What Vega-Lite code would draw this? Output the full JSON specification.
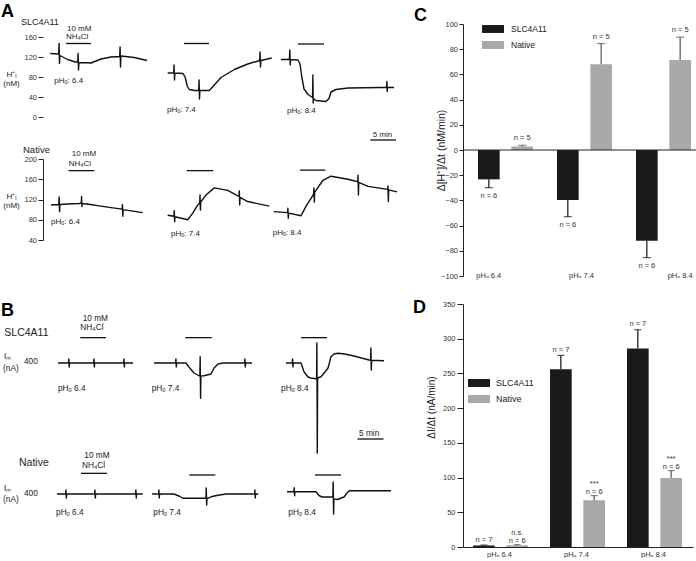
{
  "$schema": "https://vega.github.io/schema/vega-lite/v6.json",
  "padding": {"left": 0, "top": 3, "right": 0, "bottom": 0},
  "config": {
    "font": "Liberation Sans",
    "view": {"stroke": null},
    "axis": {"grid": false, "labelOverlap": false, "domainColor": "#222", "tickColor": "#222", "labelColor": "#333", "titleColor": "#222", "titleFontWeight": "normal"}
  },
  "datasets": {
    "a1": [
      {"s":1,"t":1.40,"v":127},{"s":1,"t":3.01,"v":126},{"s":1,"t":3.09,"v":147},{"s":1,"t":3.17,"v":107},{"s":1,"t":3.25,"v":123},{"s":1,"t":4.74,"v":115},{"s":1,"t":6.2,"v":110},{"s":1,"t":6.66,"v":110},{"s":1,"t":6.74,"v":127},{"s":1,"t":6.82,"v":94},{"s":1,"t":6.90,"v":109},{"s":1,"t":9.22,"v":108},{"s":1,"t":11.14,"v":116},{"s":1,"t":13.06,"v":120},{"s":1,"t":14.73,"v":121},{"s":1,"t":14.81,"v":140},{"s":1,"t":14.89,"v":100},{"s":1,"t":14.97,"v":122},{"s":1,"t":17.54,"v":119},{"s":1,"t":19.98,"v":113},
      {"s":2,"t":23.95,"v":88},{"s":2,"t":25.10,"v":88},{"s":2,"t":25.18,"v":104},{"s":2,"t":25.26,"v":74},{"s":2,"t":25.34,"v":88},{"s":2,"t":26.9,"v":87},{"s":2,"t":27.3,"v":80},{"s":2,"t":27.7,"v":62},{"s":2,"t":28.1,"v":55},{"s":2,"t":29.06,"v":53},{"s":2,"t":29.9,"v":53},{"s":2,"t":29.98,"v":74},{"s":2,"t":30.06,"v":36},{"s":2,"t":30.14,"v":53},{"s":2,"t":31.94,"v":53},{"s":2,"t":32.9,"v":64},{"s":2,"t":34.19,"v":79},{"s":2,"t":36.75,"v":95},{"s":2,"t":39.32,"v":106},{"s":2,"t":41.62,"v":113},{"s":2,"t":41.70,"v":130},{"s":2,"t":41.78,"v":100},{"s":2,"t":41.86,"v":113},{"s":2,"t":43.93,"v":118},
      {"s":3,"t":45.72,"v":115},{"s":3,"t":47.33,"v":115},{"s":3,"t":47.41,"v":134},{"s":3,"t":47.49,"v":104},{"s":3,"t":47.57,"v":115},{"s":3,"t":48.98,"v":114},{"s":3,"t":49.37,"v":106},{"s":3,"t":49.75,"v":78},{"s":3,"t":50.14,"v":56},{"s":3,"t":50.91,"v":45},{"s":3,"t":51.48,"v":41},{"s":3,"t":51.78,"v":39},{"s":3,"t":51.84,"v":84},{"s":3,"t":51.90,"v":28},{"s":3,"t":51.96,"v":37},{"s":3,"t":52.44,"v":33},{"s":3,"t":54.36,"v":31},{"s":3,"t":54.94,"v":37},{"s":3,"t":55.32,"v":50},{"s":3,"t":56.28,"v":55},{"s":3,"t":58.59,"v":58},{"s":3,"t":64.93,"v":59},{"s":3,"t":66.0,"v":59},{"s":3,"t":66.06,"v":71},{"s":3,"t":66.12,"v":51},{"s":3,"t":66.18,"v":59},{"s":3,"t":67.42,"v":59}
    ],
    "a2": [
      {"s":1,"t":1.54,"v":109},{"s":1,"t":3.02,"v":110},{"s":1,"t":3.10,"v":125},{"s":1,"t":3.18,"v":96},{"s":1,"t":3.26,"v":110},{"s":1,"t":4.74,"v":111},{"s":1,"t":6.98,"v":112},{"s":1,"t":7.35,"v":113},{"s":1,"t":7.41,"v":126},{"s":1,"t":7.47,"v":106},{"s":1,"t":7.53,"v":112},{"s":1,"t":9.86,"v":109},{"s":1,"t":13.06,"v":104},{"s":1,"t":15.2,"v":101},{"s":1,"t":15.26,"v":110},{"s":1,"t":15.34,"v":87},{"s":1,"t":15.40,"v":100},{"s":1,"t":19.15,"v":94},
      {"s":2,"t":23.95,"v":89},{"s":2,"t":25.15,"v":87},{"s":2,"t":25.21,"v":98},{"s":2,"t":25.29,"v":76},{"s":2,"t":25.35,"v":86},{"s":2,"t":27.8,"v":80},{"s":2,"t":28.76,"v":93},{"s":2,"t":29.71,"v":109},{"s":2,"t":30.1,"v":113},{"s":2,"t":30.16,"v":129},{"s":2,"t":30.24,"v":99},{"s":2,"t":30.3,"v":115},{"s":2,"t":31.31,"v":129},{"s":2,"t":32.9,"v":143},{"s":2,"t":35.48,"v":138},{"s":2,"t":37.07,"v":129},{"s":2,"t":37.65,"v":126},{"s":2,"t":37.71,"v":137},{"s":2,"t":37.79,"v":109},{"s":2,"t":37.85,"v":124},{"s":2,"t":39.32,"v":116},{"s":2,"t":43.47,"v":107},
      {"s":3,"t":44.3,"v":96},{"s":3,"t":46.98,"v":94},{"s":3,"t":47.04,"v":103},{"s":3,"t":47.12,"v":83},{"s":3,"t":47.18,"v":93},{"s":3,"t":49.56,"v":88},{"s":3,"t":50.71,"v":110},{"s":3,"t":51.86,"v":128},{"s":3,"t":51.98,"v":132},{"s":3,"t":52.04,"v":143},{"s":3,"t":52.12,"v":115},{"s":3,"t":52.18,"v":134},{"s":3,"t":53.78,"v":158},{"s":3,"t":55.32,"v":166},{"s":3,"t":58.59,"v":160},{"s":3,"t":60.45,"v":155},{"s":3,"t":60.51,"v":168},{"s":3,"t":60.59,"v":129},{"s":3,"t":60.65,"v":154},{"s":3,"t":62.43,"v":146},{"s":3,"t":66.2,"v":140},{"s":3,"t":66.26,"v":147},{"s":3,"t":66.34,"v":116},{"s":3,"t":66.4,"v":139},{"s":3,"t":68,"v":135}
    ],
    "b1": [
      {"s":1,"t":2.88,"v":0},{"s":1,"t":4.9,"v":0},{"s":1,"t":4.96,"v":80},{"s":1,"t":5.04,"v":-80},{"s":1,"t":5.1,"v":0},{"s":1,"t":9.72,"v":0},{"s":1,"t":9.78,"v":80},{"s":1,"t":9.86,"v":-80},{"s":1,"t":9.92,"v":0},{"s":1,"t":15.48,"v":0},{"s":1,"t":15.54,"v":80},{"s":1,"t":15.62,"v":-80},{"s":1,"t":15.68,"v":0},{"s":1,"t":17.29,"v":0},
      {"s":2,"t":21.32,"v":0},{"s":2,"t":25.47,"v":0},{"s":2,"t":25.53,"v":80},{"s":2,"t":25.61,"v":-80},{"s":2,"t":25.67,"v":0},{"s":2,"t":27.47,"v":0},{"s":2,"t":28.04,"v":-80},{"s":2,"t":29.0,"v":-200},{"s":2,"t":29.97,"v":-255},{"s":2,"t":30.13,"v":-258},{"s":2,"t":30.19,"v":127},{"s":2,"t":30.27,"v":-707},{"s":2,"t":30.33,"v":-258},{"s":2,"t":30.93,"v":-255},{"s":2,"t":32.27,"v":-220},{"s":2,"t":32.85,"v":-100},{"s":2,"t":33.62,"v":-20},{"s":2,"t":34.58,"v":0},{"s":2,"t":38.72,"v":0},{"s":2,"t":38.78,"v":80},{"s":2,"t":38.86,"v":-80},{"s":2,"t":38.92,"v":0},{"s":2,"t":40.15,"v":0},
      {"s":3,"t":46.68,"v":0},{"s":3,"t":47.88,"v":0},{"s":3,"t":47.94,"v":80},{"s":3,"t":48.02,"v":-80},{"s":3,"t":48.08,"v":0},{"s":3,"t":49.56,"v":0},{"s":3,"t":50.13,"v":-175},{"s":3,"t":50.9,"v":-280},{"s":3,"t":51.48,"v":-300},{"s":3,"t":52.34,"v":-315},{"s":3,"t":52.55,"v":-315},{"s":3,"t":52.61,"v":400},{"s":3,"t":52.69,"v":-1800},{"s":3,"t":52.75,"v":-300},{"s":3,"t":53.4,"v":-275},{"s":3,"t":54.17,"v":-180},{"s":3,"t":54.75,"v":-100},{"s":3,"t":55.32,"v":125},{"s":3,"t":55.9,"v":180},{"s":3,"t":56.67,"v":195},{"s":3,"t":58.2,"v":175},{"s":3,"t":59.74,"v":140},{"s":3,"t":62.62,"v":60},{"s":3,"t":62.92,"v":58},{"s":3,"t":62.98,"v":300},{"s":3,"t":63.06,"v":-140},{"s":3,"t":63.12,"v":55},{"s":3,"t":65.5,"v":45}
    ],
    "b2": [
      {"s":1,"t":2.69,"v":0},{"s":1,"t":4.34,"v":0},{"s":1,"t":4.40,"v":80},{"s":1,"t":4.48,"v":-80},{"s":1,"t":4.54,"v":0},{"s":1,"t":9.91,"v":0},{"s":1,"t":9.97,"v":80},{"s":1,"t":10.05,"v":-80},{"s":1,"t":10.11,"v":0},{"s":1,"t":17.78,"v":0},{"s":1,"t":17.84,"v":80},{"s":1,"t":17.92,"v":-80},{"s":1,"t":17.98,"v":0},{"s":1,"t":19.15,"v":0},
      {"s":2,"t":20.94,"v":0},{"s":2,"t":22.2,"v":0},{"s":2,"t":22.26,"v":80},{"s":2,"t":22.34,"v":-80},{"s":2,"t":22.4,"v":0},{"s":2,"t":25.16,"v":0},{"s":2,"t":26.12,"v":-40},{"s":2,"t":26.89,"v":-85},{"s":2,"t":31.3,"v":-85},{"s":2,"t":31.36,"v":120},{"s":2,"t":31.44,"v":-220},{"s":2,"t":31.5,"v":-85},{"s":2,"t":31.89,"v":-80},{"s":2,"t":32.27,"v":-55},{"s":2,"t":33.62,"v":-25},{"s":2,"t":35.15,"v":0},{"s":2,"t":40.64,"v":0},{"s":2,"t":40.7,"v":80},{"s":2,"t":40.78,"v":-80},{"s":2,"t":40.84,"v":0},{"s":2,"t":41.36,"v":0},
      {"s":3,"t":46.87,"v":45},{"s":3,"t":48.19,"v":45},{"s":3,"t":48.25,"v":125},{"s":3,"t":48.33,"v":-35},{"s":3,"t":48.39,"v":45},{"s":3,"t":52.44,"v":45},{"s":3,"t":53.0,"v":-30},{"s":3,"t":53.6,"v":-60},{"s":3,"t":55.32,"v":-60},{"s":3,"t":55.68,"v":-60},{"s":3,"t":55.74,"v":240},{"s":3,"t":55.82,"v":-400},{"s":3,"t":55.88,"v":-100},{"s":3,"t":56.6,"v":-110},{"s":3,"t":57.82,"v":-60},{"s":3,"t":58.39,"v":20},{"s":3,"t":58.84,"v":65},{"s":3,"t":66.85,"v":65}
    ],
    "c": [
      {"ph":"pHₒ 6.4","series":"SLC4A11","value":-23.3,"err":-29.9,"n":"n = 6"},
      {"ph":"pHₒ 6.4","series":"Native","value":2.8,"err":3.7,"n":"n = 5"},
      {"ph":"pHₒ 7.4","series":"SLC4A11","value":-39.7,"err":-52.9,"n":"n = 6"},
      {"ph":"pHₒ 7.4","series":"Native","value":68.0,"err":84.5,"n":"n = 5"},
      {"ph":"pHₒ 8.4","series":"SLC4A11","value":-72.0,"err":-85.4,"n":"n = 6"},
      {"ph":"pHₒ 8.4","series":"Native","value":71.5,"err":89.5,"n":"n = 5"}
    ],
    "d": [
      {"ph":"pHₒ 6.4","series":"SLC4A11","value":2.2,"err":2.8,"n":"n = 7","sig":""},
      {"ph":"pHₒ 6.4","series":"Native","value":2.5,"err":3.5,"n":"n = 6","sig":"n.s."},
      {"ph":"pHₒ 7.4","series":"SLC4A11","value":256,"err":276,"n":"n = 7","sig":""},
      {"ph":"pHₒ 7.4","series":"Native","value":67.5,"err":74,"n":"n = 6","sig":"***"},
      {"ph":"pHₒ 8.4","series":"SLC4A11","value":286,"err":313,"n":"n = 7","sig":""},
      {"ph":"pHₒ 8.4","series":"Native","value":99.5,"err":110,"n":"n = 6","sig":"***"}
    ]
  },
  "bounds": "flush",
  "spacing": 420,
  "hconcat": [
    {
      "bounds": "flush",
      "spacing": 42,
      "vconcat": [
        {
          "width": 354, "height": 93,
          "encoding": {
            "x": {"field": "t", "type": "quantitative", "scale": {"domain": [0, 68], "nice": false, "zero": false}, "axis": null},
            "y": {"field": "v", "type": "quantitative", "scale": {"domain": [0, 186], "nice": false, "zero": false},
              "axis": {"values": [0, 40, 80, 120, 160], "domain": false, "labelOverlap": false, "tickSize": 5, "labelFontSize": 7.5, "labelPadding": 1.5,
                "title": ["H⁺ᵢ", "(nM)"], "titleAngle": 0, "titleX": -32, "titleY": 50, "titleAlign": "center", "titleBaseline": "middle", "titleFontSize": 8, "titleLineHeight": 9}}
          },
          "layer": [
            {"data": {"name": "a1"}, "mark": {"type": "line", "color": "#111", "strokeWidth": 1.4, "strokeJoin": "round"}, "encoding": {"detail": {"field": "s"}}},
            {"data": {"values": [{"t": 4.42, "t2": 9.22, "v": 147}, {"t": 27.08, "t2": 31.89, "v": 147}, {"t": 48.98, "t2": 53.98, "v": 146}, {"t": 62.87, "t2": 67.81, "v": -46}]},
              "mark": {"type": "rule", "color": "#111", "strokeWidth": 1.3}, "encoding": {"x2": {"field": "t2"}}},
            {"data": {"values": [{}]}, "mark": {"type": "rule", "color": "#222", "strokeWidth": 1}, "encoding": {"x": {"datum": 0}, "y": {"datum": 0}, "y2": {"datum": 160}}},
            {"data": {"values": [{"t": 4.61, "v": 177, "label": "10 mM"}, {"t": 4.42, "v": 160, "label": "NH₄Cl"}, {"t": 2.17, "v": 72, "label": "pHₒ: 6.4"}, {"t": 23.82, "v": 14, "label": "pHₒ: 7.4"}, {"t": 46.87, "v": 12, "label": "pHₒ: 8.4"}, {"t": 63.33, "v": -36, "label": "5 min"}]},
              "mark": {"type": "text", "align": "left", "baseline": "middle", "fontSize": 8, "color": "#222"}, "encoding": {"text": {"field": "label"}}},
            {"data": {"values": [{"t": -4.23, "v": 191, "label": "SLC4A11"}]},
              "mark": {"type": "text", "align": "left", "baseline": "middle", "fontSize": 9, "color": "#222"}, "encoding": {"text": {"field": "label"}}},
            {"data": {"values": [{"t": -8.07, "v": 200, "label": "A"}]},
              "mark": {"type": "text", "align": "left", "baseline": "alphabetic", "fontSize": 18, "fontWeight": "bold", "color": "#000"}, "encoding": {"text": {"field": "label"}}}
          ]
        },
        {
          "width": 354, "height": 81,
          "encoding": {
            "x": {"field": "t", "type": "quantitative", "scale": {"domain": [0, 68], "nice": false, "zero": false}, "axis": null},
            "y": {"field": "v", "type": "quantitative", "scale": {"domain": [40, 200], "nice": false, "zero": false},
              "axis": {"values": [40, 80, 120, 160, 200], "labelOverlap": false, "tickSize": 5, "labelFontSize": 7.5, "labelPadding": 1.5,
                "title": ["H⁺ᵢ", "(nM)"], "titleAngle": 0, "titleX": -32, "titleY": 37, "titleAlign": "center", "titleBaseline": "middle", "titleFontSize": 8, "titleLineHeight": 9}}
          },
          "layer": [
            {"data": {"name": "a2"}, "mark": {"type": "line", "color": "#111", "strokeWidth": 1.4, "strokeJoin": "round"}, "encoding": {"detail": {"field": "s"}}},
            {"data": {"values": [{"t": 4.93, "t2": 9.86, "v": 177}, {"t": 27.6, "t2": 32.7, "v": 177}, {"t": 49.37, "t2": 54.23, "v": 178}]},
              "mark": {"type": "rule", "color": "#111", "strokeWidth": 1.3}, "encoding": {"x2": {"field": "t2"}}},
            {"data": {"values": [{"t": 5.51, "v": 209, "label": "10 mM"}, {"t": 4.93, "v": 191, "label": "NH₄Cl"}, {"t": 1.54, "v": 76, "label": "pHₒ: 6.4"}, {"t": 24.59, "v": 51, "label": "pHₒ: 7.4"}, {"t": 44.12, "v": 53, "label": "pHₒ: 8.4"}]},
              "mark": {"type": "text", "align": "left", "baseline": "middle", "fontSize": 8, "color": "#222"}, "encoding": {"text": {"field": "label"}}},
            {"data": {"values": [{"t": -3.84, "v": 218, "label": "Native"}]},
              "mark": {"type": "text", "align": "left", "baseline": "middle", "fontSize": 9.5, "color": "#222"}, "encoding": {"text": {"field": "label"}}}
          ]
        },
        {
          "width": 354, "height": 89,
          "encoding": {
            "x": {"field": "t", "type": "quantitative", "scale": {"domain": [0, 68], "nice": false, "zero": false}, "axis": null},
            "y": {"field": "v", "type": "quantitative", "scale": {"domain": [-160, 1620], "nice": false, "zero": false}, "axis": null}
          },
          "layer": [
            {"data": {"name": "b1"}, "mark": {"type": "line", "color": "#111", "strokeWidth": 1.4, "strokeJoin": "round"}, "encoding": {"detail": {"field": "s"}}},
            {"data": {"values": [{"t": 7.17, "t2": 12.1, "v": 507}, {"t": 27.34, "t2": 32.4, "v": 507}, {"t": 49.56, "t2": 54.55, "v": 507}]},
              "mark": {"type": "rule", "color": "#111", "strokeWidth": 1.3}, "encoding": {"x2": {"field": "t2"}}},
            {"data": {"values": [{}]}, "mark": {"type": "rule", "color": "#111", "strokeWidth": 2.2}, "encoding": {"x": {"datum": -0.38}, "y": {"datum": -200}, "y2": {"datum": 200}}},
            {"data": {"values": [{"t": 7.62, "v": 885, "label": "10 mM"}, {"t": 7.17, "v": 695, "label": "NH₄Cl"}, {"t": -3.65, "v": 20, "label": "400"}, {"t": -7.49, "v": 120, "label": "Iₘ"}, {"t": -7.68, "v": -120, "label": "(nA)"}, {"t": 2.88, "v": -526, "label": "pHₒ 6.4"}, {"t": 20.88, "v": -526, "label": "pHₒ 7.4"}, {"t": 45.72, "v": -526, "label": "pHₒ 8.4"}]},
              "mark": {"type": "text", "align": "left", "baseline": "middle", "fontSize": 8.3, "color": "#222"}, "encoding": {"text": {"field": "label"}}},
            {"data": {"values": [{"t": -7.43, "v": 593, "label": "SLC4A11"}]},
              "mark": {"type": "text", "align": "left", "baseline": "middle", "fontSize": 10.5, "color": "#222"}, "encoding": {"text": {"field": "label"}}},
            {"data": {"values": [{"t": -8.07, "v": 940, "label": "B"}]},
              "mark": {"type": "text", "align": "left", "baseline": "alphabetic", "fontSize": 18, "fontWeight": "bold", "color": "#000"}, "encoding": {"text": {"field": "label"}}}
          ]
        },
        {
          "width": 354, "height": 100,
          "encoding": {
            "x": {"field": "t", "type": "quantitative", "scale": {"domain": [0, 68], "nice": false, "zero": false}, "axis": null},
            "y": {"field": "v", "type": "quantitative", "scale": {"domain": [-380, 1620], "nice": false, "zero": false}, "axis": null}
          },
          "layer": [
            {"data": {"name": "b2"}, "mark": {"type": "line", "color": "#111", "strokeWidth": 1.4, "strokeJoin": "round"}, "encoding": {"detail": {"field": "s"}}},
            {"data": {"values": [{"t": 7.3, "t2": 12.29, "v": 413}, {"t": 28.1, "t2": 33.1, "v": 380}, {"t": 52.25, "t2": 57.24, "v": 380}, {"t": 60.4, "t2": 65.4, "v": 1100}]},
              "mark": {"type": "rule", "color": "#111", "strokeWidth": 1.3}, "encoding": {"x2": {"field": "t2"}}},
            {"data": {"values": [{}]}, "mark": {"type": "rule", "color": "#111", "strokeWidth": 2.2}, "encoding": {"x": {"datum": -0.38}, "y": {"datum": -200}, "y2": {"datum": 200}}},
            {"data": {"values": [{"t": 7.94, "v": 755, "label": "10 mM"}, {"t": 7.49, "v": 560, "label": "NH₄Cl"}, {"t": -3.65, "v": 0, "label": "400"}, {"t": -7.49, "v": 100, "label": "Iₘ"}, {"t": -7.68, "v": -110, "label": "(nA)"}, {"t": 2.5, "v": -387, "label": "pHₒ 6.4"}, {"t": 21.19, "v": -387, "label": "pHₒ 7.4"}, {"t": 47.12, "v": -387, "label": "pHₒ 8.4"}, {"t": 60.7, "v": 1200, "label": "5 min"}]},
              "mark": {"type": "text", "align": "left", "baseline": "middle", "fontSize": 8.3, "color": "#222"}, "encoding": {"text": {"field": "label"}}},
            {"data": {"values": [{"t": -4.61, "v": 614, "label": "Native"}]},
              "mark": {"type": "text", "align": "left", "baseline": "middle", "fontSize": 10.5, "color": "#222"}, "encoding": {"text": {"field": "label"}}}
          ]
        }
      ]
    },
    {
      "bounds": "flush",
      "spacing": 28,
      "resolve": {"scale": {"color": "independent"}, "legend": {"color": "independent"}},
      "vconcat": [
        {
          "width": 234, "height": 252,
          "title": {"text": "C", "anchor": "start", "frame": "group", "dx": -49, "offset": -21, "fontSize": 18, "fontWeight": "bold", "baseline": "alphabetic", "color": "#000"},
          "layer": [
            {
              "data": {"name": "c"},
              "encoding": {
                "x": {"field": "ph", "type": "nominal", "sort": ["pHₒ 6.4", "pHₒ 7.4", "pHₒ 8.4"], "scale": {"domain": ["pHₒ 6.4", "pHₒ 7.4", "pHₒ 8.4"], "paddingInner": 0.304, "paddingOuter": 0.133, "align": 0.714}, "axis": null},
                "xOffset": {"field": "series", "type": "nominal", "scale": {"domain": ["SLC4A11", "Native"], "paddingInner": 0.35, "paddingOuter": 0}},
                "y": {"field": "value", "type": "quantitative", "scale": {"domain": [-100, 100], "nice": false},
                  "axis": {"values": [-100, -80, -60, -40, -20, 0, 20, 40, 60, 80, 100], "tickCount": 20, "labelOverlap": false, "tickSize": 4, "labelFontSize": 7.5, "labelPadding": 1.5,
                    "title": "Δ[H⁺]/Δt (nM/min)", "titleFontSize": 10.5, "titleX": -22, "titleY": 126, "titleBaseline": "middle", "titleAlign": "center"}}
              },
              "layer": [
                {"mark": {"type": "bar"},
                  "encoding": {"color": {"field": "series", "type": "nominal", "scale": {"domain": ["SLC4A11", "Native"], "range": ["#1a1a1a", "#a9a9a9"]},
                    "legend": {"orient": "none", "legendX": 19, "legendY": -6, "title": null, "symbolType": "M-1,-0.36H1V0.36H-1Z", "symbolSize": 484, "symbolStrokeWidth": 0, "labelFontSize": 8.5, "labelOffset": 7, "rowPadding": -2, "padding": 0, "labelColor": "#222"}}}},
                {"transform": [{"filter": "datum.series == 'SLC4A11'"}], "mark": {"type": "rule", "strokeWidth": 1.2, "color": "#111"}, "encoding": {"y2": {"field": "err"}}},
                {"transform": [{"filter": "datum.series == 'Native'"}], "mark": {"type": "rule", "strokeWidth": 1.2, "color": "#555"}, "encoding": {"y2": {"field": "err"}}},
                {"transform": [{"filter": "datum.series == 'SLC4A11'"}], "mark": {"type": "tick", "thickness": 1.2, "size": 8, "color": "#111"}, "encoding": {"y": {"field": "err", "type": "quantitative"}}},
                {"transform": [{"filter": "datum.series == 'Native'"}], "mark": {"type": "tick", "thickness": 1.2, "size": 8, "color": "#555"}, "encoding": {"y": {"field": "err", "type": "quantitative"}}},
                {"transform": [{"filter": "datum.series == 'SLC4A11'"}], "mark": {"type": "text", "baseline": "top", "dy": 4, "fontSize": 7.5, "color": "#333"}, "encoding": {"y": {"field": "err", "type": "quantitative"}, "text": {"field": "n"}}},
                {"transform": [{"filter": "datum.series == 'Native'"}], "mark": {"type": "text", "baseline": "bottom", "dy": -3, "fontSize": 7.5, "color": "#333"}, "encoding": {"y": {"field": "err", "type": "quantitative"}, "text": {"field": "n"}}}
              ]
            },
            {"data": {"values": [{}]}, "mark": {"type": "rule", "color": "#222", "strokeWidth": 1},
              "encoding": {"y": {"datum": 0, "type": "quantitative", "axis": {"values": [-100, -80, -60, -40, -20, 0, 20, 40, 60, 80, 100], "tickCount": 20, "labelOverlap": false, "tickSize": 4, "labelFontSize": 7.5, "labelPadding": 1.5,
                    "title": "Δ[H⁺]/Δt (nM/min)", "titleFontSize": 10.5, "titleX": -22, "titleY": 126, "titleBaseline": "middle", "titleAlign": "center"}}}},
            {"data": {"values": [{"ph": "pHₒ 6.4", "under": "SLC4A11"}, {"ph": "pHₒ 8.4", "under": "Native"}]},
              "mark": {"type": "text", "baseline": "middle", "fontSize": 7.5, "color": "#333"},
              "encoding": {"x": {"field": "ph", "type": "nominal"}, "xOffset": {"field": "under", "type": "nominal"},
                "y": {"datum": -100, "type": "quantitative", "axis": {"values": [-100, -80, -60, -40, -20, 0, 20, 40, 60, 80, 100], "tickCount": 20, "labelOverlap": false, "tickSize": 4, "labelFontSize": 7.5, "labelPadding": 1.5,
                    "title": "Δ[H⁺]/Δt (nM/min)", "titleFontSize": 10.5, "titleX": -22, "titleY": 126, "titleBaseline": "middle", "titleAlign": "center"}}, "text": {"field": "ph"}}},
            {"data": {"values": [{"ph": "pHₒ 7.4"}]},
              "mark": {"type": "text", "baseline": "middle", "fontSize": 7.5, "color": "#333", "dx": -3},
              "encoding": {"x": {"field": "ph", "type": "nominal"},
                "y": {"datum": -100, "type": "quantitative", "axis": {"values": [-100, -80, -60, -40, -20, 0, 20, 40, 60, 80, 100], "tickCount": 20, "labelOverlap": false, "tickSize": 4, "labelFontSize": 7.5, "labelPadding": 1.5,
                    "title": "Δ[H⁺]/Δt (nM/min)", "titleFontSize": 10.5, "titleX": -22, "titleY": 126, "titleBaseline": "middle", "titleAlign": "center"}}, "text": {"field": "ph"}}}
          ]
        },
        {
          "width": 230, "height": 243,
          "title": {"text": "D", "anchor": "start", "frame": "group", "dx": -50, "offset": -31, "fontSize": 18, "fontWeight": "bold", "baseline": "alphabetic", "color": "#000"},
          "data": {"name": "d"},
          "encoding": {
            "x": {"field": "ph", "type": "nominal", "sort": ["pHₒ 6.4", "pHₒ 7.4", "pHₒ 8.4"], "scale": {"paddingInner": 0.312, "paddingOuter": 0.15, "align": 0.435},
              "axis": {"ticks": false, "labelAngle": 0, "labelFontSize": 7.5, "labelPadding": 3, "title": null}},
            "xOffset": {"field": "series", "type": "nominal", "scale": {"domain": ["SLC4A11", "Native"], "paddingInner": 0.38, "paddingOuter": 0}},
            "y": {"field": "value", "type": "quantitative", "scale": {"domain": [0, 350], "nice": false},
              "axis": {"values": [0, 50, 100, 150, 200, 250, 300, 350], "tickCount": 20, "labelOverlap": false, "tickSize": 6, "labelFontSize": 7.5, "labelPadding": 2,
                "title": "ΔI/Δt (nA/min)", "titleFontSize": 10, "titleX": -32, "titleY": 103, "titleBaseline": "middle", "titleAlign": "center"}}
          },
          "layer": [
            {"mark": {"type": "bar"},
              "encoding": {"color": {"field": "series", "type": "nominal", "scale": {"domain": ["SLC4A11", "Native"], "range": ["#1a1a1a", "#a9a9a9"]},
                "legend": {"orient": "none", "legendX": 5, "legendY": 68, "title": null, "symbolType": "M-1,-0.36H1V0.36H-1Z", "symbolSize": 484, "symbolStrokeWidth": 0, "labelFontSize": 9, "labelOffset": 6, "rowPadding": 0, "padding": 0, "labelColor": "#222"}}}},
            {"transform": [{"filter": "datum.series == 'SLC4A11'"}], "mark": {"type": "rule", "strokeWidth": 1.2, "color": "#111"}, "encoding": {"y2": {"field": "err"}}},
            {"transform": [{"filter": "datum.series == 'Native'"}], "mark": {"type": "rule", "strokeWidth": 1.2, "color": "#555"}, "encoding": {"y2": {"field": "err"}}},
            {"transform": [{"filter": "datum.series == 'SLC4A11'"}], "mark": {"type": "tick", "thickness": 1.2, "size": 7, "color": "#111"}, "encoding": {"y": {"field": "err", "type": "quantitative"}}},
            {"transform": [{"filter": "datum.series == 'Native'"}], "mark": {"type": "tick", "thickness": 1.2, "size": 7, "color": "#555"}, "encoding": {"y": {"field": "err", "type": "quantitative"}}},
            {"transform": [{"filter": "datum.series == 'SLC4A11'"}], "mark": {"type": "text", "baseline": "alphabetic", "dy": -3.5, "fontSize": 7.5, "color": "#333"}, "encoding": {"y": {"field": "err", "type": "quantitative"}, "text": {"field": "n"}}},
            {"transform": [{"filter": "datum.series == 'Native'"}], "mark": {"type": "text", "baseline": "alphabetic", "dy": -1.5, "fontSize": 7.5, "color": "#333"}, "encoding": {"y": {"field": "err", "type": "quantitative"}, "text": {"field": "n"}}},
            {"transform": [{"filter": "datum.series == 'Native'"}], "mark": {"type": "text", "baseline": "alphabetic", "dy": -9.5, "fontSize": 7.5, "color": "#333"}, "encoding": {"y": {"field": "err", "type": "quantitative"}, "text": {"field": "sig"}}}
          ]
        }
      ]
    }
  ]
}
